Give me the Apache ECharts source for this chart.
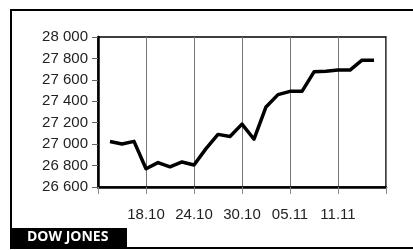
<!DOCTYPE html>
<html>
<head>
<meta charset="utf-8">
<script src="https://cdn.jsdelivr.net/npm/echarts@6/dist/echarts.min.js"></script>
<style>
  html, body { margin: 0; padding: 0; background: #fff; }
  #chart { width: 413px; height: 250px; }
</style>
</head>
<body>
<div id="chart"></div>
<script>
// trading days on the x axis (14.10 .. 15.11)
var days = ['14.10', '15.10', '16.10', '17.10', '18.10', '21.10', '22.10', '23.10', '24.10',
  '25.10', '28.10', '29.10', '30.10', '31.10', '01.11', '04.11', '05.11',
  '06.11', '07.11', '08.11', '11.11', '12.11', '13.11', '14.11', '15.11'];
var xTickLabels = ['18.10', '24.10', '30.10', '05.11', '11.11'];
// closing values, 15.10 .. 14.11
var closes = [27025, 27002, 27026, 26770, 26828, 26788, 26834, 26806,
  26958, 27091, 27071, 27187, 27046, 27347, 27462, 27493,
  27493, 27675, 27681, 27691, 27691, 27784, 27782];
var yMin = 26600, yMax = 28000, yStep = 200;

var seriesData = [null].concat(closes);
while (seriesData.length < days.length) seriesData.push(null);

function thousands(v) {
  return String(v).replace(/\B(?=(\d{3})+(?!\d))/g, ' ');
}

var myChart = echarts.init(document.getElementById('chart'));
var option = {
  animation: false,
  grid: {
    left: 98, top: 37, right: 27, bottom: 63,
    show: true, borderColor: '#000', borderWidth: 1.5
  },
  xAxis: {
    type: 'category',
    data: days,
    boundaryGap: false,
    axisLine: { lineStyle: { color: '#000', width: 2.5 } },
    axisTick: { interval: 3, length: 7, lineStyle: { color: '#888', width: 1 } },
    splitLine: { show: true, interval: 3, lineStyle: { color: '#777', width: 1 } },
    axisLabel: {
      interval: 3, margin: 20,
      color: '#222', fontFamily: 'Liberation Sans', fontSize: 15,
      formatter: function (v) { return xTickLabels.indexOf(v) >= 0 ? v : ''; }
    }
  },
  yAxis: {
    type: 'value',
    min: yMin, max: yMax, interval: yStep,
    axisLine: { show: true, lineStyle: { color: '#000', width: 2.5 } },
    axisTick: { show: true, length: 6, lineStyle: { color: '#666', width: 1 } },
    splitLine: { show: false },
    axisLabel: {
      margin: 10, color: '#222', fontFamily: 'Liberation Sans', fontSize: 15,
      formatter: thousands
    }
  },
  series: [{
    type: 'line',
    data: seriesData,
    symbol: 'none',
    lineStyle: { color: '#000', width: 3.5, join: 'round' },
    z: 5
  }],
  graphic: [
    { type: 'line', shape: { x1: 10, y1: 10, x2: 413, y2: 10 }, style: { stroke: '#000', lineWidth: 2 } },
    { type: 'line', shape: { x1: 11, y1: 9, x2: 11, y2: 249 }, style: { stroke: '#000', lineWidth: 2 } },
    { type: 'line', shape: { x1: 10, y1: 248, x2: 413, y2: 248 }, style: { stroke: '#000', lineWidth: 2 } },
    { type: 'rect', shape: { x: 11, y: 228, width: 116, height: 20 }, style: { fill: '#000' } },
    {
      type: 'text', left: 27, top: 230,
      style: { text: 'DOW JONES', fill: '#fff', font: 'bold 14px "Open Sans"' }
    }
  ]
};
myChart.setOption(option);
</script>
</body>
</html>
